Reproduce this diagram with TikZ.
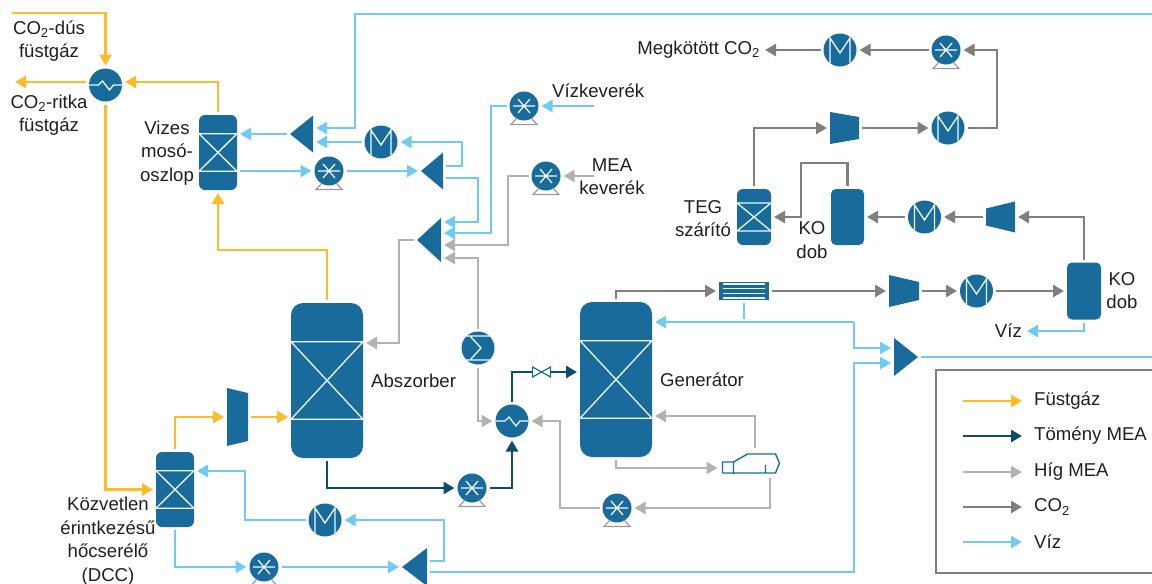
\documentclass[tikz,border=0pt]{standalone}
\usepackage{fontspec}
\setmainfont{Liberation Sans}
\usetikzlibrary{arrows.meta,positioning,calc}
\definecolor{unitblue}{HTML}{186B9B}
\definecolor{fustc}{HTML}{FDBB2A}
\definecolor{tomc}{HTML}{0F4C6B}
\definecolor{higc}{HTML}{B2B2B2}
\definecolor{gazc}{HTML}{7F7F7F}
\definecolor{vizc}{HTML}{6FCBF3}
\newcommand{\ppb}{path picture bounding box}
\newcommand{\cotwo}{CO\textsubscript{2}}

\begin{document}
\begin{tikzpicture}[
  x=1pt, y=-1pt,
  font=\fontsize{18.6}{23.5}\selectfont,
  txt/.style={align=center, inner sep=2pt, text=black!88},
  flow/.style={line width=2.6pt, shorten <=3pt, shorten >=3pt, -{Triangle[length=11pt,width=12pt]}},
  fust/.style={flow, draw=fustc},
  tom/.style={flow, draw=tomc},
  hig/.style={flow, draw=higc},
  gaz/.style={flow, draw=gazc},
  viz/.style={flow, draw=vizc},
  wline/.style={draw=white!88!vizc, line width=1.3pt, sharp corners},
  unit/.style={inner sep=0pt, outer sep=0pt},
  tower/.style 2 args={unit, fill=unitblue, rounded corners=#2, minimum width=#1,
    path picture={
      \coordinate (tl) at ($(\ppb.north west)!.25!(\ppb.south west)$);
      \coordinate (tr) at ($(\ppb.north east)!.25!(\ppb.south east)$);
      \coordinate (bl) at ($(\ppb.north west)!.75!(\ppb.south west)$);
      \coordinate (br) at ($(\ppb.north east)!.75!(\ppb.south east)$);
      \draw[wline] (tl) -- (tr) -- (bl) -- (br) -- cycle;}},
  drum/.style={unit, fill=unitblue, rounded corners=5pt, minimum width=34pt, minimum height=57pt},
  ball/.style={unit, circle, fill=unitblue, minimum size=33pt},
  cooler/.style={ball, path picture={
      \draw[wline, shift={(\ppb.center)}] (-10,-17) -- (-10,17) (10,-17) -- (10,17)
        (-10,-12) -- (0,3) -- (10,-12);}},
  hx/.style={ball, path picture={
      \draw[wline, shift={(\ppb.center)}] (-17,0) -- (-7,0) -- (-3,-4) -- (4,5) -- (8,0) -- (17,0);}},
  sumr/.style={ball, path picture={
      \draw[wline, shift={(\ppb.center)}] (-17,-12) -- (17,-12) (-17,12) -- (17,12)
        (-8,-12) -- (3,0) -- (-8,12);}},
  pump/.style={ball, minimum size=29pt, path picture={
      \draw[wline, shift={(\ppb.center)}] (-11,0) -- (11,0) (-6,-7) -- (6,7) (6,-7) -- (-6,7);}},
  pumpbase/.style={draw=gazc!80, line width=1.2pt},
  trileft/.style={unit, path picture={
      \fill[unitblue] (\ppb.west) -- (\ppb.north east) -- (\ppb.south east) -- cycle;}},
  triright/.style={unit, path picture={
      \fill[unitblue] (\ppb.east) -- (\ppb.north west) -- (\ppb.south west) -- cycle;}},
  compnarrow/.style={unit, path picture={
      \fill[unitblue] (\ppb.north west) -- ($(\ppb.north east)+(0,#1)$)
        -- ($(\ppb.south east)+(0,-#1)$) -- (\ppb.south west) -- cycle;}},
  compwide/.style={unit, path picture={
      \fill[unitblue] (\ppb.north east) -- ($(\ppb.north west)+(0,#1)$)
        -- ($(\ppb.south west)+(0,-#1)$) -- (\ppb.south east) -- cycle;}},
  valvex/.style={unit, minimum width=19pt, minimum height=12pt, path picture={
      \draw[draw=unitblue, line width=1.2pt, shift={(\ppb.center)}]
        (-9,-5) -- (9,5) -- (9,-5) -- (-9,5) -- cycle;}},
  condx/.style={unit, fill=unitblue, minimum width=50pt, minimum height=18pt, path picture={
      \draw[wline, shift={(\ppb.center)}] (-21,-7) -- (21,-7) (-21,-2.5) -- (21,-2.5)
        (-21,2.5) -- (21,2.5) (-21,7) -- (21,7);}},
  reboil/.style={unit, minimum width=60pt, minimum height=24pt, path picture={
      \draw[draw=unitblue, line width=1.4pt, shift={(\ppb.center)}]
        (-28,10) -- (-28,-1) -- (-17,-1) -- (-17,11) (-17,-1) -- (-3,-9) -- (25,-9)
        -- (29,0) -- (25,10) -- (-28,10) (15,2) -- (15,10);}},
  legendbox/.style={draw=gazc, line width=1.2pt, minimum width=218pt, minimum height=203pt}
]
\useasboundingbox (0,0) rectangle (1152,584);

% flue gas side
\node[hx] (hxa) at (105.5,85) {};
\node[tower={38pt}{6pt}, minimum height=75pt] (wash) at (218,152.5) {};
\node[tower={38pt}{6pt}, minimum height=75pt] (dcc) at (175,489.5) {};
\node[tower={72pt}{12pt}, minimum height=155pt] (absz) at (327,380.5) {};
\node[compnarrow=5, minimum width=21pt, minimum height=58pt] (compa) at (237.5,417) {};
\coordinate (fgin) at (9,13);
\coordinate (fgout) at (12,82);
\node[txt] (dusl) at (49,41) {\cotwo-dús\\füstgáz};
\node[txt] (ritl) at (49,115) {\cotwo-ritka\\füstgáz};
\node[txt] (washl) at (167,153) {Vizes\\mosó-\\oszlop};
\node[txt] (dccl) at (108,541) {Közvetlen\\érintkezésű\\hőcserélő\\(DCC)};
\node[txt, right=6pt of absz] (abszl) {Abszorber};
\draw[fust] (fgin) -| (hxa);
\draw[fust] ([yshift=3pt]hxa.west) -- (fgout);
\draw[fust] (wash) |- ([yshift=3pt]hxa.east);
\draw[fust] (hxa) |- (dcc);
\draw[fust] (absz.north) -- ++(0,-53) -| (wash);
\draw[fust] (dcc) |- (compa);
\draw[fust] (compa.east) -- (compa.east -| absz.west);

% water wash loop and MEA make-up
\node[trileft, minimum width=23pt, minimum height=37pt] (spla) at (301.5,134) {};
\node[cooler] (coolb) at (381,142) {};
\node[pump] (pumpb) at (329,171) {};
\node[trileft, minimum width=22pt, minimum height=37pt] (splb) at (432,171) {};
\node[trileft, minimum width=24pt, minimum height=44pt] (mixa) at (429,240) {};
\node[pump] (pumpv) at (524,106) {};
\node[pump] (pumpm) at (546,176) {};
\node[txt, anchor=west] (vizkl) at (550,91) {Vízkeverék};
\node[txt] (meal) at (612,176.5) {MEA\\keverék};
\coordinate (vizin) at (597,106);
\coordinate (meain) at (597,176);
\coordinate (topin) at (1155,14);
\draw[viz] (topin) -| (355,128) -- ([yshift=6pt]spla.east);
\draw[viz] (coolb.west) -- (coolb.west -| spla.east);
\draw[viz] (spla.west) -- (spla.west -| wash.east);
\draw[viz] (pumpb -| wash.east) -- (pumpb);
\draw[viz] (pumpb) -- (splb.west);
\draw[viz] ([yshift=5pt]splb.east) -| (462,142) -- (coolb.east);
\draw[viz] ([yshift=-7pt]splb.east) -| (478,222) -- ([yshift=18pt]mixa.east);
\draw[viz] (pumpv.west) -| (491,233) -- ([yshift=7pt]mixa.east);
\draw[viz] (vizin) -- (pumpv);
\draw[hig] (meain) -- (pumpm);
\draw[hig] (pumpm.west) -| (508,245) -- ([yshift=-5pt]mixa.east);
\draw[hig] (mixa.west) -- ++(-18,0) |- ([yshift=37.5pt]absz.east);

% rich and lean MEA
\node[sumr] (sumn) at (478,348) {};
\node[hx] (hxb) at (512,421) {};
\node[pump] (pumpd) at (472,488) {};
\node[valvex] (valve) at (541.5,372) {};
\node[tower={72pt}{12pt}, minimum height=155pt] (gen) at (616,379.5) {};
\node[reboil] (reb) at (750.5,463) {};
\node[pump] (pumpg) at (617,508) {};
\node[txt, right=6pt of gen] (genl) {Generátor};
\draw[tom] (absz) |- (pumpd);
\draw[tom] (pumpd) -| (hxb);
\draw[tom, -, shorten >=0pt] (hxb) |- (valve);
\draw[tom, shorten <=0pt] (valve) -- (valve -| gen.west);
\draw[hig] (sumn) |- ([yshift=-18pt]mixa.east);
\draw[hig] (sumn) |- (hxb);
\draw[hig] (gen) |- ([yshift=-5pt]reb.west);
\draw[hig] ([xshift=4.5pt]reb.north) |- ([yshift=-36.5pt]gen.east);
\draw[hig] ([xshift=19.5pt]reb.south) |- (pumpg);
\draw[hig] (pumpg.west) -| (560,421) -- (hxb.east);

% CO2 train
\node[condx] (cond) at (744,291) {};
\node[compnarrow=7, minimum width=30pt, minimum height=32pt, right=120pt of cond] (compb) {};
\node[cooler, right=41pt of compb] (coolc) {};
\node[drum] (kod) at (1084,291) {};
\node[compwide=7, minimum width=29pt, minimum height=31pt] (compc) at (1000.5,217) {};
\node[cooler, left=45pt of compc] (coold) {};
\node[drum, minimum width=33pt, minimum height=56pt, left=44pt of coold] (kob) {};
\node[tower={34pt}{6pt}, minimum height=56pt] (teg) at (754,217) {};
\node[compnarrow=5, minimum width=29pt, minimum height=32pt] (compd) at (844.5,128) {};
\node[cooler] (coole) at (948,128) {};
\node[pump] (pumpe) at (946,50) {};
\node[cooler] (coolf) at (840,50) {};
\node[txt, anchor=east] (megl) at (762,50) {Megkötött \cotwo};
\node[txt] (kodl) at (1122,290.5) {KO\\dob};
\node[txt] (kobl) at (812,240) {KO\\dob};
\node[txt] (tegl) at (703,218.5) {TEG\\szárító};
\node[txt, anchor=east] (vizl) at (1024,331) {Víz};
\draw[gaz] (gen) |- (cond);
\draw[gaz] (cond) -- (compb);
\draw[gaz] (compb) -- (coolc);
\draw[gaz] (coolc) -- (kod);
\draw[gaz] (kod) |- (compc);
\draw[gaz] (compc) -- (coold);
\draw[gaz] (coold) -- (kob);
\draw[gaz] (kob.north) |- (801,163) |- (teg);
\draw[gaz] (teg) |- (compd);
\draw[gaz] (compd) -- (coole);
\draw[gaz] (coole.east) -| (997,50) -- (pumpe.east);
\draw[gaz] (pumpe) -- (coolf);
\draw[gaz] (coolf) -- (megl);
\draw[viz] (kod) |- (vizl);

% water return
\node[triright, minimum width=24pt, minimum height=38pt] (mixb) at (906,357) {};
\node[trileft, minimum width=25pt, minimum height=38pt] (splc) at (414.5,567) {};
\node[cooler] (coola) at (325,520) {};
\node[pump] (pumpc) at (264,567) {};
\coordinate (retj) at (854,322);
\coordinate (retend) at (1155,357);
\draw[viz, -] (cond) -- (cond |- retj);
\draw[viz, shorten <=0pt] (retj) -- (retj -| gen.east);
\draw[viz, shorten <=0pt] (retj) |- ([yshift=9pt]mixb.west);
\draw[viz] ([yshift=-5pt]splc.east) -| (854,363) -- ([yshift=-6pt]mixb.west);
\draw[viz, -] (mixb.east) -- (retend);
\draw[viz] ([yshift=6pt]splc.east) -| (444,520) -- (coola.east);
\draw[viz] (coola.west) -| (245,471) -- ([yshift=18.5pt]dcc.east);
\draw[viz] (dcc) |- (pumpc);
\draw[viz] (pumpc) -- (splc);

% pump feet
\foreach \pm in {pumpb,pumpv,pumpm,pumpd,pumpg,pumpe,pumpc}
  \draw[pumpbase] ($(\pm.center)+(-7,12)$) -- ($(\pm.center)+(-13,18.5)$)
    -- ($(\pm.center)+(13,18.5)$) -- ($(\pm.center)+(7,12)$);

% legend
\node[legendbox] (legfr) at (1045,471.5) {};
\foreach \ypos/\sty/\lab/\nm in {401/fust/Füstgáz/lfust, 436/tom/Tömény MEA/ltom,
    472/hig/Híg MEA/lhig, 507/gaz/\cotwo/lgaz, 542/viz/Víz/lviz} {
  \node[txt, anchor=west, inner sep=0pt] (\nm) at (1034,\ypos) {\lab};
  \coordinate (\nm s) at (963,\ypos);
  \draw[\sty, shorten <=0pt, shorten >=12pt] (\nm s) -- (\nm.west);
}
\end{tikzpicture}
\end{document}
